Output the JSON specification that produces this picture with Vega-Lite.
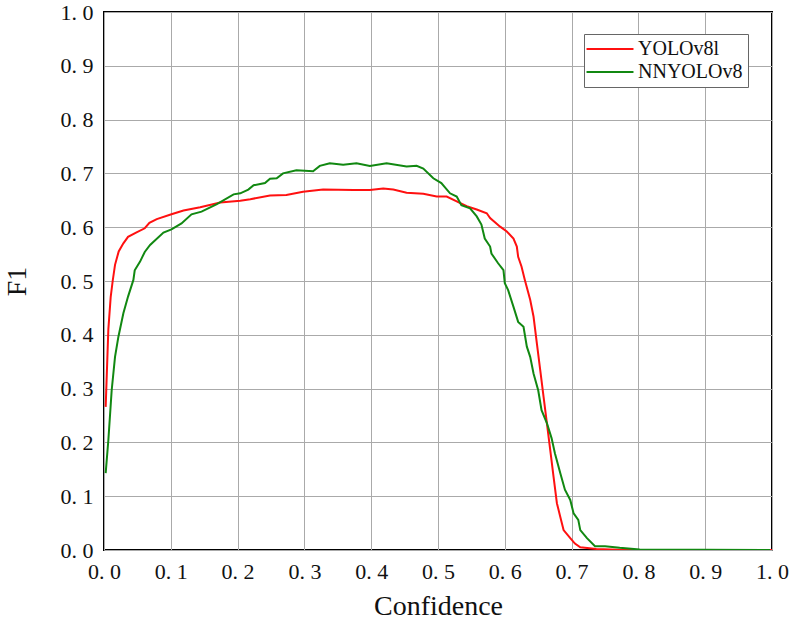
{
  "$schema": "https://vega.github.io/schema/vega-lite/v6.json",
  "width": 668,
  "height": 538,
  "autosize": {"type": "none"},
  "padding": {"left": 104, "top": 12, "right": 23, "bottom": 78},
  "background": "white",
  "config": {
    "view": {"stroke": "black", "strokeWidth": 2},
    "font": "Liberation Serif, DejaVu Serif, Times New Roman, serif"
  },
  "data": {
    "values": [
      {"s": "YOLOv8l", "x": 0.0025, "y": 0.266},
      {"s": "YOLOv8l", "x": 0.0065, "y": 0.41},
      {"s": "YOLOv8l", "x": 0.010, "y": 0.47},
      {"s": "YOLOv8l", "x": 0.013, "y": 0.50},
      {"s": "YOLOv8l", "x": 0.0165, "y": 0.53},
      {"s": "YOLOv8l", "x": 0.022, "y": 0.555},
      {"s": "YOLOv8l", "x": 0.029, "y": 0.57},
      {"s": "YOLOv8l", "x": 0.036, "y": 0.582},
      {"s": "YOLOv8l", "x": 0.048, "y": 0.59},
      {"s": "YOLOv8l", "x": 0.061, "y": 0.598},
      {"s": "YOLOv8l", "x": 0.068, "y": 0.608},
      {"s": "YOLOv8l", "x": 0.079, "y": 0.615},
      {"s": "YOLOv8l", "x": 0.101, "y": 0.624},
      {"s": "YOLOv8l", "x": 0.119, "y": 0.631},
      {"s": "YOLOv8l", "x": 0.144, "y": 0.637},
      {"s": "YOLOv8l", "x": 0.174, "y": 0.646},
      {"s": "YOLOv8l", "x": 0.204, "y": 0.649},
      {"s": "YOLOv8l", "x": 0.219, "y": 0.652},
      {"s": "YOLOv8l", "x": 0.2485, "y": 0.659},
      {"s": "YOLOv8l", "x": 0.273, "y": 0.660},
      {"s": "YOLOv8l", "x": 0.298, "y": 0.666},
      {"s": "YOLOv8l", "x": 0.328, "y": 0.670},
      {"s": "YOLOv8l", "x": 0.373, "y": 0.669},
      {"s": "YOLOv8l", "x": 0.398, "y": 0.669},
      {"s": "YOLOv8l", "x": 0.418, "y": 0.672},
      {"s": "YOLOv8l", "x": 0.433, "y": 0.670},
      {"s": "YOLOv8l", "x": 0.453, "y": 0.664},
      {"s": "YOLOv8l", "x": 0.478, "y": 0.662},
      {"s": "YOLOv8l", "x": 0.498, "y": 0.657},
      {"s": "YOLOv8l", "x": 0.513, "y": 0.657},
      {"s": "YOLOv8l", "x": 0.528, "y": 0.648},
      {"s": "YOLOv8l", "x": 0.543, "y": 0.639},
      {"s": "YOLOv8l", "x": 0.558, "y": 0.633},
      {"s": "YOLOv8l", "x": 0.573, "y": 0.626},
      {"s": "YOLOv8l", "x": 0.578, "y": 0.617},
      {"s": "YOLOv8l", "x": 0.593, "y": 0.601},
      {"s": "YOLOv8l", "x": 0.603, "y": 0.592},
      {"s": "YOLOv8l", "x": 0.613, "y": 0.579},
      {"s": "YOLOv8l", "x": 0.618, "y": 0.564},
      {"s": "YOLOv8l", "x": 0.620, "y": 0.545},
      {"s": "YOLOv8l", "x": 0.625, "y": 0.527},
      {"s": "YOLOv8l", "x": 0.630, "y": 0.502},
      {"s": "YOLOv8l", "x": 0.638, "y": 0.465},
      {"s": "YOLOv8l", "x": 0.643, "y": 0.434},
      {"s": "YOLOv8l", "x": 0.648, "y": 0.384},
      {"s": "YOLOv8l", "x": 0.653, "y": 0.335},
      {"s": "YOLOv8l", "x": 0.658, "y": 0.285},
      {"s": "YOLOv8l", "x": 0.663, "y": 0.236},
      {"s": "YOLOv8l", "x": 0.668, "y": 0.186},
      {"s": "YOLOv8l", "x": 0.673, "y": 0.136},
      {"s": "YOLOv8l", "x": 0.678, "y": 0.087},
      {"s": "YOLOv8l", "x": 0.683, "y": 0.062},
      {"s": "YOLOv8l", "x": 0.688, "y": 0.037},
      {"s": "YOLOv8l", "x": 0.698, "y": 0.022},
      {"s": "YOLOv8l", "x": 0.705, "y": 0.012},
      {"s": "YOLOv8l", "x": 0.713, "y": 0.005},
      {"s": "YOLOv8l", "x": 0.737, "y": 0.002},
      {"s": "YOLOv8l", "x": 0.78, "y": 0.0},
      {"s": "YOLOv8l", "x": 1.0, "y": 0.0},
      {"s": "NNYOLOv8", "x": 0.0025, "y": 0.143},
      {"s": "NNYOLOv8", "x": 0.0065, "y": 0.204},
      {"s": "NNYOLOv8", "x": 0.0115, "y": 0.297},
      {"s": "NNYOLOv8", "x": 0.0165, "y": 0.359},
      {"s": "NNYOLOv8", "x": 0.0215, "y": 0.396},
      {"s": "NNYOLOv8", "x": 0.029, "y": 0.44},
      {"s": "NNYOLOv8", "x": 0.036, "y": 0.471},
      {"s": "NNYOLOv8", "x": 0.044, "y": 0.502},
      {"s": "NNYOLOv8", "x": 0.046, "y": 0.52},
      {"s": "NNYOLOv8", "x": 0.054, "y": 0.536},
      {"s": "NNYOLOv8", "x": 0.061, "y": 0.554},
      {"s": "NNYOLOv8", "x": 0.069, "y": 0.567},
      {"s": "NNYOLOv8", "x": 0.089, "y": 0.59},
      {"s": "NNYOLOv8", "x": 0.101, "y": 0.596},
      {"s": "NNYOLOv8", "x": 0.116, "y": 0.607},
      {"s": "NNYOLOv8", "x": 0.131, "y": 0.624},
      {"s": "NNYOLOv8", "x": 0.146, "y": 0.629},
      {"s": "NNYOLOv8", "x": 0.169, "y": 0.643},
      {"s": "NNYOLOv8", "x": 0.194, "y": 0.661},
      {"s": "NNYOLOv8", "x": 0.204, "y": 0.663},
      {"s": "NNYOLOv8", "x": 0.216, "y": 0.670},
      {"s": "NNYOLOv8", "x": 0.224, "y": 0.678},
      {"s": "NNYOLOv8", "x": 0.241, "y": 0.682},
      {"s": "NNYOLOv8", "x": 0.2485, "y": 0.690},
      {"s": "NNYOLOv8", "x": 0.2585, "y": 0.691},
      {"s": "NNYOLOv8", "x": 0.268, "y": 0.700},
      {"s": "NNYOLOv8", "x": 0.288, "y": 0.706},
      {"s": "NNYOLOv8", "x": 0.313, "y": 0.704},
      {"s": "NNYOLOv8", "x": 0.323, "y": 0.714},
      {"s": "NNYOLOv8", "x": 0.338, "y": 0.719},
      {"s": "NNYOLOv8", "x": 0.358, "y": 0.716},
      {"s": "NNYOLOv8", "x": 0.378, "y": 0.719},
      {"s": "NNYOLOv8", "x": 0.398, "y": 0.714},
      {"s": "NNYOLOv8", "x": 0.423, "y": 0.719},
      {"s": "NNYOLOv8", "x": 0.453, "y": 0.713},
      {"s": "NNYOLOv8", "x": 0.468, "y": 0.714},
      {"s": "NNYOLOv8", "x": 0.478, "y": 0.709},
      {"s": "NNYOLOv8", "x": 0.493, "y": 0.691},
      {"s": "NNYOLOv8", "x": 0.505, "y": 0.682},
      {"s": "NNYOLOv8", "x": 0.518, "y": 0.663},
      {"s": "NNYOLOv8", "x": 0.528, "y": 0.657},
      {"s": "NNYOLOv8", "x": 0.535, "y": 0.641},
      {"s": "NNYOLOv8", "x": 0.548, "y": 0.635},
      {"s": "NNYOLOv8", "x": 0.558, "y": 0.620},
      {"s": "NNYOLOv8", "x": 0.565, "y": 0.605},
      {"s": "NNYOLOv8", "x": 0.570, "y": 0.579},
      {"s": "NNYOLOv8", "x": 0.578, "y": 0.564},
      {"s": "NNYOLOv8", "x": 0.580, "y": 0.551},
      {"s": "NNYOLOv8", "x": 0.590, "y": 0.533},
      {"s": "NNYOLOv8", "x": 0.598, "y": 0.520},
      {"s": "NNYOLOv8", "x": 0.600, "y": 0.496},
      {"s": "NNYOLOv8", "x": 0.605, "y": 0.483},
      {"s": "NNYOLOv8", "x": 0.613, "y": 0.452},
      {"s": "NNYOLOv8", "x": 0.620, "y": 0.424},
      {"s": "NNYOLOv8", "x": 0.628, "y": 0.415},
      {"s": "NNYOLOv8", "x": 0.633, "y": 0.378},
      {"s": "NNYOLOv8", "x": 0.638, "y": 0.359},
      {"s": "NNYOLOv8", "x": 0.643, "y": 0.328},
      {"s": "NNYOLOv8", "x": 0.650, "y": 0.297},
      {"s": "NNYOLOv8", "x": 0.655, "y": 0.260},
      {"s": "NNYOLOv8", "x": 0.663, "y": 0.236},
      {"s": "NNYOLOv8", "x": 0.670, "y": 0.208},
      {"s": "NNYOLOv8", "x": 0.675, "y": 0.180},
      {"s": "NNYOLOv8", "x": 0.683, "y": 0.143},
      {"s": "NNYOLOv8", "x": 0.690, "y": 0.112},
      {"s": "NNYOLOv8", "x": 0.698, "y": 0.093},
      {"s": "NNYOLOv8", "x": 0.703, "y": 0.068},
      {"s": "NNYOLOv8", "x": 0.710, "y": 0.056},
      {"s": "NNYOLOv8", "x": 0.713, "y": 0.037},
      {"s": "NNYOLOv8", "x": 0.723, "y": 0.022},
      {"s": "NNYOLOv8", "x": 0.735, "y": 0.007},
      {"s": "NNYOLOv8", "x": 0.750, "y": 0.007},
      {"s": "NNYOLOv8", "x": 0.772, "y": 0.004},
      {"s": "NNYOLOv8", "x": 0.802, "y": 0.001},
      {"s": "NNYOLOv8", "x": 0.997, "y": 0.0}
    ]
  },
  "mark": {"type": "line", "strokeWidth": 2, "clip": true},
  "encoding": {
    "x": {
      "field": "x", "type": "quantitative",
      "scale": {"domain": [0, 1], "nice": false},
      "axis": {
        "title": "Confidence", "values": [0, 0.1, 0.2, 0.3, 0.4, 0.5, 0.6, 0.7, 0.8, 0.9, 1.0],
        "labelExpr": "replace(format(datum.value, '.1f'), '.', '. ')",
        "labelFont": "Liberation Serif, DejaVu Serif, Times New Roman, serif", "labelFontSize": 22, "labelColor": "#111",
        "labelPadding": 11, "ticks": false, "domain": false,
        "grid": true, "gridColor": "#aaaaaa", "gridWidth": 1,
        "titleFont": "Liberation Serif, DejaVu Serif, Times New Roman, serif", "titleFontSize": 28, "titleFontWeight": "normal",
        "titleColor": "#111", "titlePadding": 10, "labelFlush": false
      }
    },
    "y": {
      "field": "y", "type": "quantitative",
      "scale": {"domain": [0, 1], "nice": false},
      "axis": {
        "title": "F1", "values": [0, 0.1, 0.2, 0.3, 0.4, 0.5, 0.6, 0.7, 0.8, 0.9, 1.0],
        "labelExpr": "replace(format(datum.value, '.1f'), '.', '. ')",
        "labelFont": "Liberation Serif, DejaVu Serif, Times New Roman, serif", "labelFontSize": 22, "labelColor": "#111",
        "labelPadding": 11, "ticks": false, "domain": false,
        "grid": true, "gridColor": "#aaaaaa", "gridWidth": 1,
        "titleFont": "Liberation Serif, DejaVu Serif, Times New Roman, serif", "titleFontSize": 28, "titleFontWeight": "normal",
        "titleColor": "#111", "titlePadding": 29, "labelFlush": false
      }
    },
    "color": {
      "field": "s", "type": "nominal",
      "scale": {"domain": ["YOLOv8l", "NNYOLOv8"], "range": ["#ff1010", "#118811"]},
      "legend": {
        "title": null, "orient": "none", "legendX": 480, "legendY": 22,
        "symbolType": "M-3,0H3", "symbolSize": 245, "symbolStrokeWidth": 2,
        "symbolOffset": 11,
        "labelFont": "Liberation Serif, DejaVu Serif, Times New Roman, serif", "labelFontSize": 20, "labelColor": "#111",
        "labelOffset": 18, "rowPadding": 3,
        "strokeColor": "#666666", "padding": 5, "fillColor": "white"
      }
    }
  }
}
